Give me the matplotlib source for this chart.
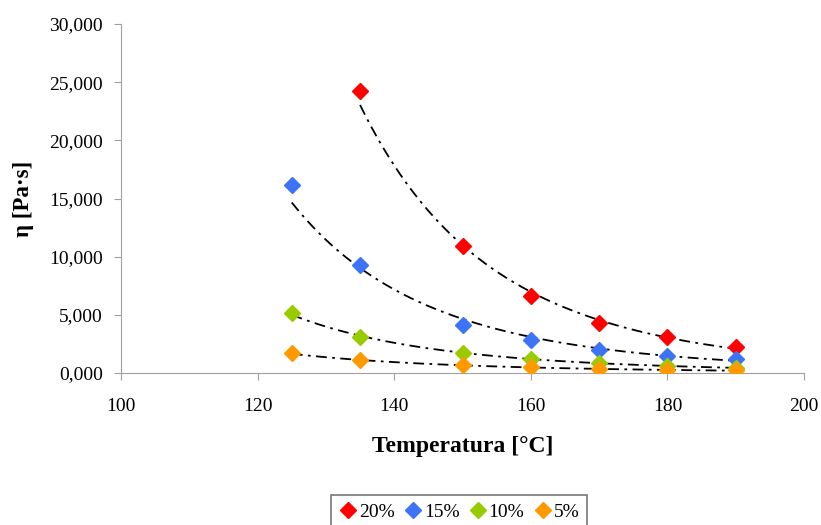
import numpy as np
import matplotlib
matplotlib.use("Agg")
import matplotlib.pyplot as plt
from matplotlib.ticker import FixedLocator

# data
temp_20 = [135, 150, 160, 170, 180, 190]
temp_other = [125, 135, 150, 160, 170, 180, 190]
visc_20 = [24200, 10900, 6600, 4300, 3100, 2200]
visc_15 = [16200, 9300, 4100, 2800, 2000, 1500, 1200]
visc_10 = [5200, 3100, 1700, 1200, 850, 600, 450]
visc_5 = [1750, 1100, 650, 480, 320, 250, 230]

series_labels = ["20%", "15%", "10%", "5%"]
series_colors = ["#ff0000", "#3d74f7", "#99cc00", "#ff9900"]
y_ticks = [0, 5000, 10000, 15000, 20000, 25000, 30000]
y_tick_labels = ["0,000", "5,000", "10,000", "15,000", "20,000", "25,000", "30,000"]
x_ticks = [100, 120, 140, 160, 180, 200]

plt.rcParams['font.family'] = ['Liberation Serif', 'DejaVu Serif']

fig = plt.figure(figsize=(8.21, 5.25), dpi=100)
ax = fig.add_axes([0.1474, 0.2895, 0.8319, 0.6648])

all_series = [(temp_20, visc_20), (temp_other, visc_15),
              (temp_other, visc_10), (temp_other, visc_5)]

# power trend lines (Excel style), fitted to each series
for x, y in all_series:
    x = np.array(x, dtype=float)
    b, a = np.polyfit(np.log(x), np.log(y), 1)
    xs = np.linspace(x.min(), x.max(), 200)
    ax.plot(xs, np.exp(a) * xs ** b, color='black', lw=1.3,
            dashes=(6, 3, 1.5, 3), zorder=2)

for (x, y), lab, col in zip(all_series, series_labels, series_colors):
    ax.plot(x, y, linestyle='none', marker='D', markersize=8,
            color=col, markeredgecolor=col, label=lab, zorder=3)

ax.set_xlim(100, 200)
ax.set_ylim(0, 30000)
ax.xaxis.set_major_locator(FixedLocator(x_ticks))
ax.set_yticks(y_ticks)
ax.set_yticklabels(y_tick_labels)

for side in ['top', 'right']:
    ax.spines[side].set_visible(False)
for side in ['left', 'bottom']:
    ax.spines[side].set_color('#a0a0a0')
ax.tick_params(axis='both', colors='#a0a0a0', labelcolor='black',
               labelsize=14, direction='out', length=5)
ax.tick_params(axis='x', pad=13)
ax.tick_params(axis='y', pad=8)

ax.set_xlabel("Temperatura [°C]", fontsize=17, fontweight='bold', labelpad=15)
ax.set_ylabel("η [Pa·s]", fontsize=16.5, fontweight='bold', labelpad=11)

leg = fig.legend(loc='lower center', bbox_to_anchor=(0.559, -0.025), ncol=4,
                 fontsize=14, frameon=True, fancybox=False, handletextpad=0.05,
                 columnspacing=0.45, handlelength=1.0, borderpad=0.4)
leg.get_frame().set_edgecolor('#555555')
leg.get_frame().set_linewidth(1.2)

fig.savefig("out.png", dpi=100)
